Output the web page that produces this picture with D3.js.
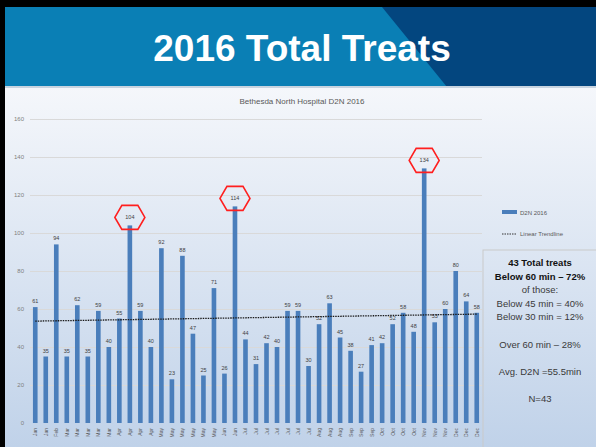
<!DOCTYPE html>
<meta charset="utf-8">
<html>
<script src="https://d3js.org/d3.v7.min.js"></script>
<style>
  body { margin: 0; }
</style>
<div id="chart"></div>
<script>

// D2N minutes per treat, 2016 (43 treats)
var months = ["Jan","Jan","Feb","Mar","Mar","Mar","Mar","Mar","Apr","Apr","Apr","Apr",
              "May","May","May","May","May","May","Jun","Jun","Jul","Jul","Jul","Jul",
              "Jul","Jul","Jul","Aug","Aug","Aug","Sep","Sep","Sep","Oct","Oct","Oct",
              "Oct","Nov","Nov","Nov","Dec","Dec","Dec"];
var d2n = [61,35,94,35,62,35,59,40,55,104,59,40,92,23,88,47,25,71,26,114,44,31,42,40,
           59,59,30,52,63,45,38,27,41,42,52,58,48,134,53,60,80,64,58];
var yTicks = [0,20,40,60,80,100,120,140,160];
var circled = [104,114,134];
var summary = [
  {t: "43 Total treats", b: true},
  {t: "Below 60 min \u2013 72%", b: true},
  {t: "of those:", b: false},
  {t: "Below 45 min = 40%", b: false},
  {t: "Below 30 min = 12%", b: false},
  {t: "", b: false},
  {t: "Over 60 min \u2013 28%", b: false},
  {t: "", b: false},
  {t: "Avg. D2N =55.5min", b: false},
  {t: "", b: false},
  {t: "N=43", b: false}
];

var width = 596, height = 447;

var svg = d3.select("#chart").append("svg")
    .attr("width", width)
    .attr("height", height)
    .style("font-family", "'Liberation Sans', Arial, sans-serif");

var defs = svg.append("defs");
var bg = defs.append("linearGradient").attr("id", "bg")
    .attr("x1", 0).attr("y1", 0).attr("x2", 0).attr("y2", 1);
bg.append("stop").attr("offset", "0%").attr("stop-color", "#f5f7fb");
bg.append("stop").attr("offset", "100%").attr("stop-color", "#c0d2e9");

// slide background + black frame
svg.append("rect").attr("width", width).attr("height", height).attr("fill", "#000");
svg.append("rect").attr("x", 5).attr("y", 87).attr("width", width - 5).attr("height", height - 87)
    .attr("fill", "url(#bg)");

// banner
svg.append("rect").attr("x", 5).attr("y", 7).attr("width", width - 5).attr("height", 80)
    .attr("fill", "#0a7fb5");
svg.append("path")
    .attr("d", "M382,7 L596,7 L596,87 L447,87 Z")
    .attr("fill", "#03467f");
svg.append("rect").attr("x", 5).attr("y", 86).attr("width", width - 5).attr("height", 2)
    .attr("fill", "#c8d4e0");
svg.append("text")
    .attr("x", 302).attr("y", 61)
    .attr("text-anchor", "middle")
    .attr("fill", "#fff")
    .style("font-size", "37px")
    .style("font-weight", "bold")
    .text("2016 Total Treats");

// chart
var x = d3.scaleBand()
    .domain(d3.range(d2n.length))
    .range([30, 482])
    .paddingInner(0.56)
    .paddingOuter(0.28);

var y = d3.scaleLinear().domain([0, 160]).range([423, 119]);

svg.append("text")
    .attr("x", 302).attr("y", 104)
    .attr("text-anchor", "middle")
    .attr("fill", "#595959")
    .style("font-size", "8px")
    .text("Bethesda North Hospital D2N 2016");

var yAxis = svg.append("g")
    .attr("transform", "translate(30,0)")
    .call(d3.axisLeft(y).tickValues(yTicks).tickSize(-452).tickPadding(6));
yAxis.select(".domain").remove();
yAxis.selectAll(".tick line").attr("stroke", "#d9d9d9").attr("stroke-width", 1.2)
    .filter(function(d) { return d === 0; }).remove();
yAxis.selectAll(".tick text").attr("fill", "#7f7f7f")
    .style("font-size", "6px").style("font-family", "'Liberation Sans', Arial, sans-serif");

svg.append("g").selectAll("rect")
    .data(d2n)
  .enter().append("rect")
    .attr("x", function(d, i) { return x(i); })
    .attr("y", function(d) { return y(d); })
    .attr("width", x.bandwidth())
    .attr("height", function(d) { return y(0) - y(d); })
    .attr("fill", "#4a7ebb");

// value labels
svg.append("g").selectAll("text")
    .data(d2n)
  .enter().append("text")
    .attr("x", function(d, i) { return x(i) + x.bandwidth() / 2; })
    .attr("y", function(d) { return y(d) - (circled.indexOf(d) >= 0 ? 6 : 4); })
    .attr("text-anchor", "middle")
    .attr("fill", "#404040")
    .style("font-size", "5.5px")
    .text(function(d) { return d; });

// red hexagons around the highest values
var hex = svg.append("g");
d2n.forEach(function(d, i) {
  if (circled.indexOf(d) < 0) return;
  var cx = x(i) + x.bandwidth() / 2, cy = y(d) - 8;
  var pts = [[-15,0],[-8,-12],[8,-12],[15,0],[8,12],[-8,12]];
  hex.append("polygon")
      .attr("points", pts.map(function(p) { return (cx + p[0]) + "," + (cy + p[1]); }).join(" "))
      .attr("fill", "none")
      .attr("stroke", "#ff1f1f")
      .attr("stroke-width", 1.6);
});

// x labels, rotated
svg.append("g").selectAll("text")
    .data(months)
  .enter().append("text")
    .attr("transform", function(d, i) {
      return "translate(" + (x(i) + x.bandwidth() / 2 + 2) + ",428) rotate(-90)";
    })
    .attr("text-anchor", "end")
    .attr("fill", "#595959")
    .style("font-size", "5px")
    .text(function(d) { return d; });

// linear trendline (least squares over the bars)
var n = d2n.length;
var mx = d3.mean(d3.range(n)), my = d3.mean(d2n);
var slope = d3.sum(d2n, function(d, i) { return (i - mx) * (d - my); }) /
            d3.sum(d3.range(n), function(i) { return (i - mx) * (i - mx); });
var trend = [0, n - 1].map(function(i) { return [i, my + slope * (i - mx)]; });
svg.append("path")
    .datum(trend)
    .attr("d", d3.line()
      .x(function(p) { return x(p[0]) + x.bandwidth() / 2; })
      .y(function(p) { return y(p[1]); }))
    .attr("stroke", "#1a1a1a")
    .attr("stroke-width", 1.3)
    .attr("stroke-dasharray", "1.5,1")
    .attr("fill", "none");

// legend
svg.append("rect").attr("x", 502).attr("y", 210).attr("width", 15).attr("height", 4)
    .attr("fill", "#4a7ebb");
svg.append("text").attr("x", 520).attr("y", 214.5).attr("fill", "#595959")
    .style("font-size", "6px").text("D2N 2016");
svg.append("line").attr("x1", 502).attr("x2", 516).attr("y1", 234).attr("y2", 234)
    .attr("stroke", "#333").attr("stroke-width", 1).attr("stroke-dasharray", "1.5,1");
svg.append("text").attr("x", 520).attr("y", 236).attr("fill", "#595959")
    .style("font-size", "6px").text("Linear Trendline");

// summary box
svg.append("rect").attr("x", 483).attr("y", 250).attr("width", 120).attr("height", 210)
    .attr("fill", "none").attr("stroke", "#c9c9c9").attr("stroke-width", 1);
svg.append("g").selectAll("text")
    .data(summary)
  .enter().append("text")
    .attr("x", 540)
    .attr("y", function(d, i) { return 266 + i * 13.6; })
    .attr("text-anchor", "middle")
    .attr("fill", function(d) { return d.b ? "#111" : "#3a3a3a"; })
    .style("font-size", "9.5px")
    .style("font-weight", function(d) { return d.b ? "bold" : "normal"; })
    .text(function(d) { return d.t; });

</script>
</html>
